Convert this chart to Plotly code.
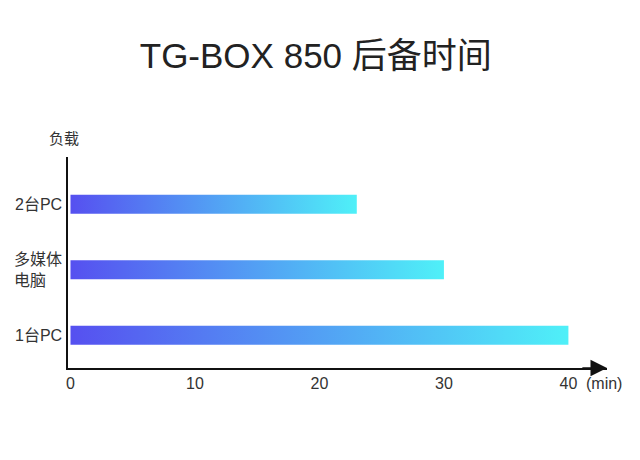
import plotly.graph_objects as go

# load cases, bottom to top
LOADS = ["1台PC", "多媒体<br>电脑", "2台PC"]
MINUTES = [40, 30, 23]
X_TICKS = [0, 10, 20, 30, 40]

BAR_LEFT = "#5650F0"
BAR_RIGHT = "#4FF0F8"
TEXT = "#333333"
FONT = "Liberation Sans, Noto Sans CJK SC, sans-serif"

HALF = 0.145  # half bar thickness in category units

fig = go.Figure()

# each bar is a filled rectangle so it can carry a horizontal gradient
for i, (name, v) in enumerate(zip(LOADS, MINUTES)):
    fig.add_trace(go.Scatter(
        x=[0, v, v, 0, 0],
        y=[i - HALF, i - HALF, i + HALF, i + HALF, i - HALF],
        mode='lines',
        line=dict(width=0),
        fill='toself',
        fillgradient=dict(type='horizontal',
                          colorscale=[[0, BAR_LEFT], [1, BAR_RIGHT]]),
        hoverinfo='skip',
        showlegend=False,
    ))
    # category label, left aligned block like the original
    fig.add_annotation(
        x=0, xref='paper', y=i, yref='y',
        text=name, showarrow=False,
        xanchor='right', xshift=-4, align='left',
        font=dict(size=16, color=TEXT, family=FONT),
    )

# axis units
fig.add_annotation(x=0, xref='paper', y=1, yref='paper', text='负载',
                   showarrow=False, xanchor='center', yanchor='bottom',
                   xshift=-4, yshift=8,
                   font=dict(size=15, color=TEXT, family=FONT))
fig.add_annotation(x=40, xref='x', y=0, yref='paper', text='(min)',
                   showarrow=False, xanchor='left', yanchor='top',
                   xshift=16, yshift=-5,
                   font=dict(size=16, color=TEXT, family=FONT))
# arrow head on the x axis
fig.add_annotation(x=43.1, y=-0.5, xref='x', yref='y',
                   ax=41.0, ay=-0.5, axref='x', ayref='y',
                   text='', showarrow=True, arrowhead=2, arrowsize=2.2,
                   arrowwidth=1.5, arrowcolor='#111111', standoff=0)

fig.update_layout(
    width=632, height=452,
    paper_bgcolor='white', plot_bgcolor='white',
    margin=dict(l=60, r=33, t=149, b=92),
    title=dict(text='TG-BOX 850 后备时间', x=0.487, xanchor='center',
               y=0.894, yanchor='middle',
               font=dict(size=35, color='#222222', family=FONT)),
    font=dict(family=FONT, color=TEXT, size=16),
    xaxis=dict(range=[-0.2, 43.1], tickvals=X_TICKS, showgrid=False,
               zeroline=False, showline=True, linecolor='#111111',
               linewidth=1.5, ticks='', tickfont=dict(size=16, color=TEXT)),
    yaxis=dict(range=[-0.5, 2.72], showgrid=False, zeroline=False,
               showline=True, linecolor='#111111', linewidth=1.5,
               showticklabels=False, ticks=''),
)

fig.write_html("out.html")
